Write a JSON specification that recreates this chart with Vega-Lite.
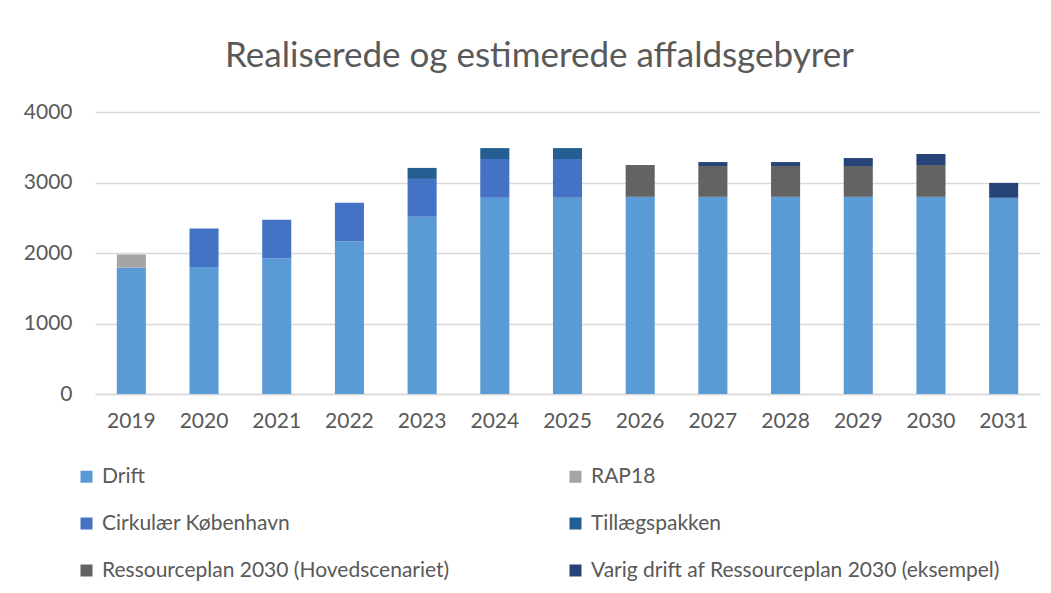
{
  "$schema": "https://vega.github.io/schema/vega-lite/v6.json",
  "autosize": {"type": "none"},
  "padding": {"left": 95, "top": 112, "right": 11, "bottom": 199},
  "width": 945,
  "height": 282,
  "background": "white",
  "title": {
    "text": "Realiserede og estimerede affaldsgebyrer",
    "font": "Lato",
    "fontSize": 35,
    "fontWeight": "normal",
    "color": "#595959",
    "anchor": "middle",
    "dx": -28,
    "offset": 27
  },
  "data": {
    "values": [
      {"aar": "2019", "serie": "Drift", "vaerdi": 1795},
      {"aar": "2019", "serie": "RAP18", "vaerdi": 184},
      {"aar": "2020", "serie": "Drift", "vaerdi": 1800},
      {"aar": "2020", "serie": "Cirkulær København", "vaerdi": 546},
      {"aar": "2021", "serie": "Drift", "vaerdi": 1923},
      {"aar": "2021", "serie": "Cirkulær København", "vaerdi": 550},
      {"aar": "2022", "serie": "Drift", "vaerdi": 2162},
      {"aar": "2022", "serie": "Cirkulær København", "vaerdi": 550},
      {"aar": "2023", "serie": "Drift", "vaerdi": 2515},
      {"aar": "2023", "serie": "Cirkulær København", "vaerdi": 536},
      {"aar": "2023", "serie": "Tillægspakken", "vaerdi": 156},
      {"aar": "2024", "serie": "Drift", "vaerdi": 2783},
      {"aar": "2024", "serie": "Cirkulær København", "vaerdi": 550},
      {"aar": "2024", "serie": "Tillægspakken", "vaerdi": 155},
      {"aar": "2025", "serie": "Drift", "vaerdi": 2783},
      {"aar": "2025", "serie": "Cirkulær København", "vaerdi": 550},
      {"aar": "2025", "serie": "Tillægspakken", "vaerdi": 155},
      {"aar": "2026", "serie": "Drift", "vaerdi": 2797},
      {"aar": "2026", "serie": "Ressourceplan 2030 (Hovedscenariet)", "vaerdi": 451},
      {"aar": "2027", "serie": "Drift", "vaerdi": 2797},
      {"aar": "2027", "serie": "Ressourceplan 2030 (Hovedscenariet)", "vaerdi": 437},
      {"aar": "2027", "serie": "Varig drift af Ressourceplan 2030 (eksempel)", "vaerdi": 56},
      {"aar": "2028", "serie": "Drift", "vaerdi": 2797},
      {"aar": "2028", "serie": "Ressourceplan 2030 (Hovedscenariet)", "vaerdi": 437},
      {"aar": "2028", "serie": "Varig drift af Ressourceplan 2030 (eksempel)", "vaerdi": 56},
      {"aar": "2029", "serie": "Drift", "vaerdi": 2797},
      {"aar": "2029", "serie": "Ressourceplan 2030 (Hovedscenariet)", "vaerdi": 437},
      {"aar": "2029", "serie": "Varig drift af Ressourceplan 2030 (eksempel)", "vaerdi": 113},
      {"aar": "2030", "serie": "Drift", "vaerdi": 2797},
      {"aar": "2030", "serie": "Ressourceplan 2030 (Hovedscenariet)", "vaerdi": 451},
      {"aar": "2030", "serie": "Varig drift af Ressourceplan 2030 (eksempel)", "vaerdi": 156},
      {"aar": "2031", "serie": "Drift", "vaerdi": 2783},
      {"aar": "2031", "serie": "Varig drift af Ressourceplan 2030 (eksempel)", "vaerdi": 211}
    ]
  },
  "transform": [
    {"calculate": "indexof(['Drift','RAP18','Cirkulær København','Tillægspakken','Ressourceplan 2030 (Hovedscenariet)','Varig drift af Ressourceplan 2030 (eksempel)'], datum.serie)", "as": "rk"}
  ],
  "mark": {"type": "bar"},
  "encoding": {
    "x": {
      "field": "aar",
      "type": "ordinal",
      "scale": {"paddingInner": 0.6, "paddingOuter": 0.3},
      "axis": {
        "title": null,
        "labelAngle": 0,
        "ticks": false,
        "domain": true,
        "domainColor": "#D9D9D9",
        "domainWidth": 1.5,
        "labelPadding": 16,
        "labelFont": "Lato",
        "labelFontSize": 21,
        "labelColor": "#595959"
      }
    },
    "y": {
      "field": "vaerdi",
      "type": "quantitative",
      "aggregate": "sum",
      "stack": "zero",
      "scale": {"domain": [0, 4000], "nice": false},
      "axis": {
        "title": null,
        "values": [0, 1000, 2000, 3000, 4000],
        "format": "d",
        "domain": false,
        "ticks": false,
        "grid": true,
        "gridColor": "#D9D9D9",
        "gridWidth": 1.5,
        "labelPadding": 23,
        "labelFont": "Lato",
        "labelFontSize": 21,
        "labelColor": "#595959"
      }
    },
    "color": {
      "field": "serie",
      "type": "nominal",
      "scale": {
        "domain": ["Drift", "RAP18", "Cirkulær København", "Tillægspakken", "Ressourceplan 2030 (Hovedscenariet)", "Varig drift af Ressourceplan 2030 (eksempel)"],
        "range": ["#5B9BD5", "#A5A5A5", "#4472C4", "#255E91", "#636363", "#264478"]
      },
      "legend": {
        "title": null,
        "orient": "none",
        "direction": "horizontal",
        "legendX": -19,
        "legendY": 354,
        "columns": 2,
        "columnPadding": 115,
        "rowPadding": 25,
        "symbolType": "square",
        "symbolSize": 144,
        "symbolStrokeWidth": 0,
        "labelOffset": 5,
        "labelFont": "Lato",
        "labelFontSize": 21,
        "labelColor": "#595959",
        "labelLimit": 600,
        "padding": 0
      }
    },
    "order": {"field": "rk", "type": "quantitative", "sort": "ascending"}
  },
  "config": {
    "view": {"stroke": null}
  }
}
